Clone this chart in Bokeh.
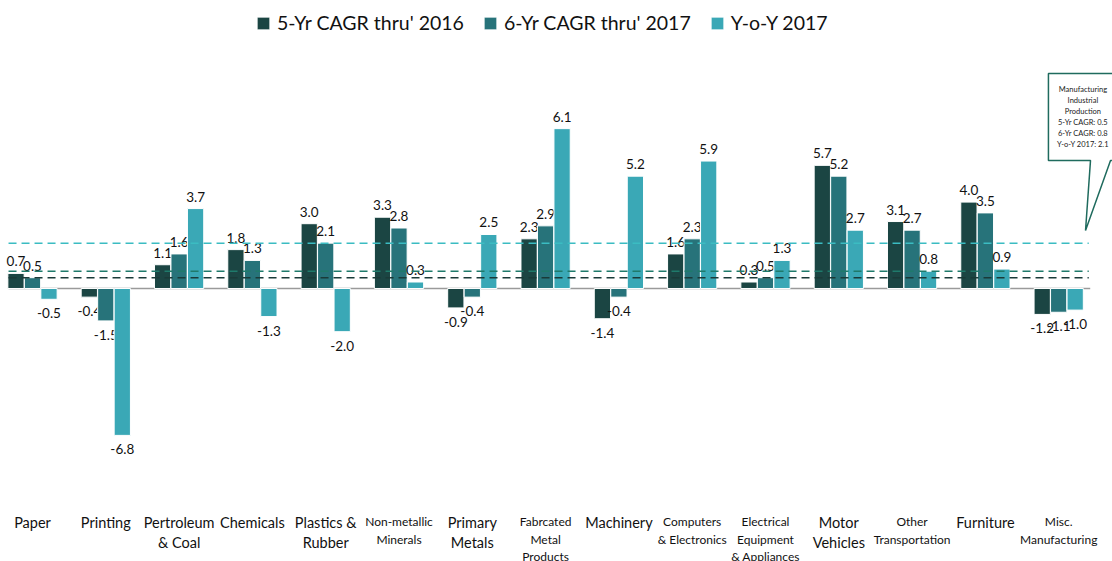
from bokeh.plotting import figure
from bokeh.models import ColumnDataSource, Range1d, Legend, LegendItem
from bokeh.core.properties import value
from bokeh.embed import file_html
from bokeh.resources import INLINE

categories = ["Paper", "Printing", "Pertroleum\n& Coal", "Chemicals", "Plastics &\nRubber",
              "Non-metallic\nMinerals", "Primary\nMetals", "Fabrcated\nMetal\nProducts", "Machinery",
              "Computers\n& Electronics", "Electrical\nEquipment\n& Appliances", "Motor\nVehicles",
              "Other\nTransportation", "Furniture", "Misc.\nManufacturing"]
small_label = [False, False, False, False, False, True, False, True, False, True, True, False, True, False, True]

cagr5_2016 = [0.7, -0.4, 1.1, 1.8, 3.0, 3.3, -0.9, 2.3, -1.4, 1.6, 0.3, 5.7, 3.1, 4.0, -1.2]
cagr6_2017 = [0.5, -1.5, 1.6, 1.3, 2.1, 2.8, -0.4, 2.9, -0.4, 2.3, 0.5, 5.2, 2.7, 3.5, -1.1]
yoy_2017 = [-0.5, -6.8, 3.7, -1.3, -2.0, 0.3, 2.5, 7.4, 5.2, 5.9, 1.3, 2.7, 0.8, 0.9, -1.0]
yoy_2017_labels = ["-0.5", "-6.8", "3.7", "-1.3", "-2.0", "0.3", "2.5", "6.1", "5.2", "5.9",
                   "1.3", "2.7", "0.8", "0.9", "-1.0"]

series_names = ["5-Yr CAGR thru' 2016", "6-Yr CAGR thru' 2017", "Y-o-Y 2017"]
mfg_values = [0.5, 0.8, 2.1]  # Manufacturing Industrial Production: 5-Yr, 6-Yr, Y-o-Y
mfg_title = "Manufacturing\nIndustrial\nProduction"
mfg_lines = ["5-Yr CAGR: ", "6-Yr CAGR: ", "Y-o-Y 2017: "]

colors = ["#1b4543", "#27737a", "#3aa8b6"]
line_colors = ["#1a3a38", "#1f7a6b", "#3bbcc2"]
FONT = "Lato"

W, H = 1112, 561
n = len(categories)
p = figure(width=W, height=H, output_backend="svg", toolbar_location=None,
           x_range=Range1d(-0.4366, 14.734), y_range=Range1d(-12.639, 13.333),
           min_border=0, outline_line_color=None)
p.axis.visible = False
p.grid.visible = False
p.background_fill_color = "white"

offsets = [-0.225, 0.0, 0.225]
series = [cagr5_2016, cagr6_2017, yoy_2017]
labels_all = [[f"{v:.1f}" for v in cagr5_2016], [f"{v:.1f}" for v in cagr6_2017], yoy_2017_labels]
x_start = -0.327
x_end = n - 1 + 0.43

# zero baseline
p.segment(x0=[x_start], y0=[0], x1=[x_end], y1=[0], line_color="#9a9a9a", line_width=1.5)

legend_items = []
for k in range(3):
    xs = [i + offsets[k] for i in range(n)]
    src = ColumnDataSource(dict(x=xs, top=series[k], lab=labels_all[k]))
    r = p.vbar(x="x", top="top", bottom=0, width=0.222, source=src,
               fill_color=colors[k], line_color="white", line_width=1)
    legend_items.append(LegendItem(label=series_names[k], renderers=[r]))
    pos = ColumnDataSource(dict(x=[x for x, v in zip(xs, series[k]) if v >= 0],
                                y=[v for v in series[k] if v >= 0],
                                t=[l for l, v in zip(labels_all[k], series[k]) if v >= 0]))
    neg = ColumnDataSource(dict(x=[x for x, v in zip(xs, series[k]) if v < 0],
                                y=[v for v in series[k] if v < 0],
                                t=[l for l, v in zip(labels_all[k], series[k]) if v < 0]))
    p.text(x="x", y="y", text="t", source=pos, text_align="center", text_baseline="middle",
           y_offset=-12, text_font=value(FONT), text_font_size="13.5px", text_color="#111111")
    p.text(x="x", y="y", text="t", source=neg, text_align="center", text_baseline="middle",
           y_offset=14, text_font=value(FONT), text_font_size="13.5px", text_color="#111111")

# manufacturing reference lines
for k in range(3):
    p.segment(x0=[x_start], y0=[mfg_values[k]], x1=[x_end - 0.02], y1=[mfg_values[k]],
              line_color=line_colors[k], line_width=1.5, line_dash="8 5")

# category labels
big = ColumnDataSource(dict(x=[i for i in range(n) if not small_label[i]],
                            t=[c for c, s in zip(categories, small_label) if not s]))
sml = ColumnDataSource(dict(x=[i for i in range(n) if small_label[i]],
                            t=[c for c, s in zip(categories, small_label) if s]))
p.text(x="x", y=-10.46, text="t", source=big, text_align="center", text_baseline="top",
       text_font=value(FONT), text_font_size="14.5px", text_line_height=1.17, text_color="#111111")
p.text(x="x", y=-10.46, text="t", source=sml, text_align="center", text_baseline="top",
       text_font=value(FONT), text_font_size="12px", text_line_height=1.15, text_color="#111111")

# callout box for manufacturing
cx0, cx1 = 13.86, 14.9
cy0, cy1 = 5.93, 9.95
tipx, tipy = 14.366, 2.685
p.patch(x=[cx0, cx1, cx1, 14.707, tipx, 14.434, cx0, cx0],
        y=[cy1, cy1, cy0, cy0, tipy, cy0, cy0, cy1],
        fill_color="white", line_color="#1f6b5e", line_width=1.5)
callout = mfg_title + "\n" + "\n".join(f"{a}{v}" for a, v in zip(mfg_lines, mfg_values))
p.text(x=[14.33], y=[9.4], text=[callout], text_align="center", text_baseline="top",
       text_font=value(FONT), text_font_size="7.5px", text_line_height=1.22, text_color="#222222")

legend = Legend(items=legend_items, orientation="horizontal", location=(255, H - 34),
                glyph_width=16, glyph_height=16, label_standoff=6, spacing=18,
                label_text_font=FONT, label_text_font_size="19.5px", label_text_color="#111111",
                border_line_color=None, background_fill_alpha=0, padding=4, margin=0)
p.add_layout(legend)

open("out.html", "w").write(file_html(p, INLINE))
